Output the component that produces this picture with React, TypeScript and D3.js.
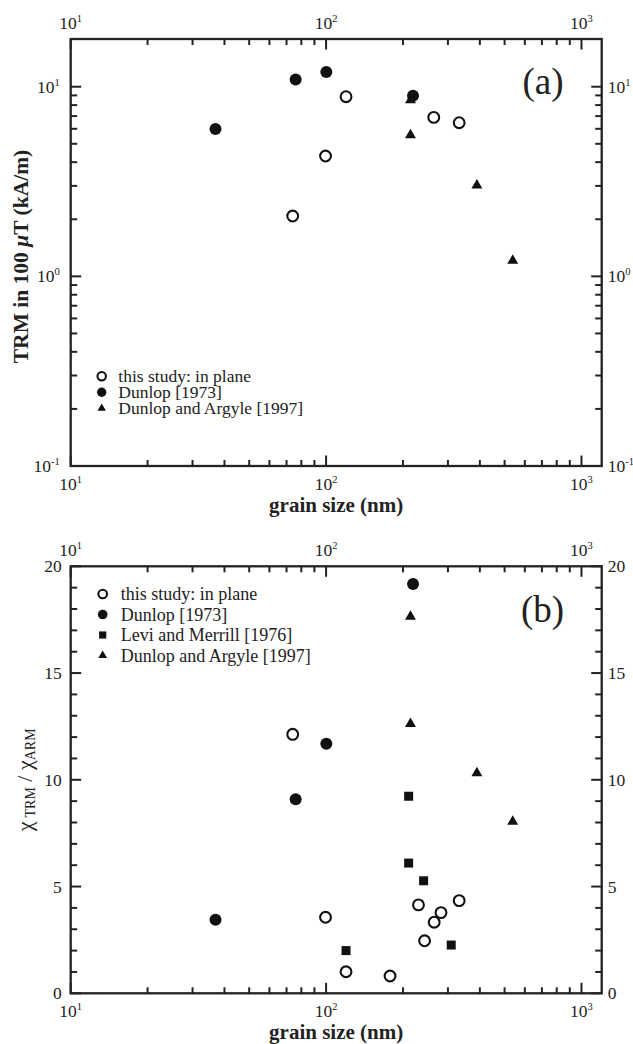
import React from "react";
import * as d3 from "d3";

// ---------- data ----------
// Panel (a): TRM in 100 µT (kA/m) vs grain size (nm)
const aStudyX = [74, 99.5, 119.7, 264, 332];
const aStudyY = [2.08, 4.31, 8.86, 6.89, 6.46];
const aDunlopX = [36.9, 76, 100.2, 219];
const aDunlopY = [5.98, 10.93, 11.95, 8.97];
const aArgyleX = [214, 214, 389.5, 538];
const aArgyleY = [8.5, 5.56, 3.02, 1.21];

// Panel (b): chi_TRM / chi_ARM vs grain size (nm)
const bStudyX = [74, 99.5, 119.7, 178, 230, 243, 265, 281.8, 332];
const bStudyY = [12.13, 3.56, 1.01, 0.81, 4.14, 2.46, 3.33, 3.78, 4.34];
const bDunlopX = [36.9, 76, 100.2, 219];
const bDunlopY = [3.45, 9.09, 11.69, 19.17];
const bLeviX = [119.7, 210.5, 210.5, 240.9, 309];
const bLeviY = [2.0, 9.23, 6.1, 5.27, 2.26];
const bArgyleX = [214, 214, 389.5, 538];
const bArgyleY = [17.64, 12.62, 10.32, 8.04];

const xMajor = [10, 100, 1000];
const xExp = ["1", "2", "3"];
const aYMajor = [0.1, 1, 10];
const aYExp = ["-1", "0", "1"];
const bYMajor = [0, 5, 10, 15, 20];

const legendA = ["this study: in plane", "Dunlop [1973]", "Dunlop and Argyle [1997]"];
const legendB = ["this study: in plane", "Dunlop [1973]", "Levi and Merrill [1976]", "Dunlop and Argyle [1997]"];

// ---------- layout ----------
const W = 633;
const H = 1044;
const FONT = "'Liberation Serif', 'Times New Roman', Times, serif";
const L = 70.7;
const R = 601.7;
const aTop = 39;
const aBot = 466;
const bTop = 566.3;
const bBot = 993.3;

const xA = d3.scaleLog().domain([10, 1200]).range([L, R]);
const yA = d3.scaleLog().domain([0.1, 17.85]).range([aBot, aTop]);
const yB = d3.scaleLinear().domain([0, 20]).range([bBot, bTop]);

const xMinor: number[] = [];
[10, 100].forEach((d) => {
  for (let k = 2; k <= 9; k++) xMinor.push(d * k);
});
const aYMinor: number[] = [];
[0.1, 1].forEach((d) => {
  for (let k = 2; k <= 9; k++) aYMinor.push(d * k);
});
const bYMinor = d3.range(0, 21).filter((v) => v % 5 !== 0);

const tri = (size: number) => d3.symbol(d3.symbolTriangle, size)()!;
const sq = (size: number) => d3.symbol(d3.symbolSquare, size)()!;

type Mk = "open" | "filled" | "tri" | "sq";

function Marker({ kind, x, y, s = 1 }: { kind: Mk; x: number; y: number; s?: number }) {
  if (kind === "open")
    return <circle cx={x} cy={y} r={5.4 * s} fill="none" stroke="#111" strokeWidth={2.1} />;
  if (kind === "filled") return <circle cx={x} cy={y} r={6 * s} fill="#111" />;
  if (kind === "tri")
    return <path d={tri(52 * s * s)} transform={`translate(${x},${y})`} fill="#111" />;
  return <path d={sq(81 * s * s)} transform={`translate(${x},${y})`} fill="#111" />;
}

function Sup({ base, exp, x, y, anchor }: { base: string; exp: string; x: number; y: number; anchor: string }) {
  return (
    <text x={x} y={y} textAnchor={anchor} fontFamily={FONT} fontSize={17.5} fill="#222">
      {base}
      <tspan fontSize={10.5} dy={-7}>
        {exp}
      </tspan>
    </text>
  );
}

function Frame({ top, bot, yTicks }: { top: number; bot: number; yTicks: { v: number; major: boolean; y: number }[] }) {
  const lines: React.ReactNode[] = [];
  const allX = [...xMajor.map((v) => ({ v, major: true })), ...xMinor.map((v) => ({ v, major: false }))];
  allX.forEach((t, i) => {
    const x = xA(t.v);
    const len = t.major ? 10.5 : 6;
    lines.push(<line key={`xb${i}`} x1={x} x2={x} y1={bot} y2={bot - len} />);
    lines.push(<line key={`xt${i}`} x1={x} x2={x} y1={top} y2={top + len} />);
  });
  yTicks.forEach((t, i) => {
    const len = t.major ? 10.5 : 6.5;
    lines.push(<line key={`yl${i}`} x1={L} x2={L + len} y1={t.y} y2={t.y} />);
    lines.push(<line key={`yr${i}`} x1={R} x2={R - len} y1={t.y} y2={t.y} />);
  });
  return (
    <g stroke="#222" strokeWidth={2}>
      {lines}
      <rect x={L} y={top} width={R - L} height={bot - top} fill="none" strokeWidth={2.3} />
    </g>
  );
}

function XLabels({ top, bot }: { top: number; bot: number }) {
  return (
    <g>
      {xMajor.map((v, i) => (
        <React.Fragment key={i}>
          <Sup base="10" exp={xExp[i]} x={xA(v)} y={top - 10.5} anchor="middle" />
          <Sup base="10" exp={xExp[i]} x={xA(v)} y={bot + 23.5} anchor="middle" />
        </React.Fragment>
      ))}
      <text
        x={(L + R) / 2}
        y={bot + 46}
        textAnchor="middle"
        fontFamily={FONT}
        fontWeight="bold"
        fontSize={21}
        fill="#222"
      >
        grain size (nm)
      </text>
    </g>
  );
}

export default function App() {
  const aYT = [
    ...aYMajor.map((v) => ({ v, major: true, y: yA(v) })),
    ...aYMinor.map((v) => ({ v, major: false, y: yA(v) })),
  ];
  const bYT = [
    ...bYMajor.map((v) => ({ v, major: true, y: yB(v) })),
    ...bYMinor.map((v) => ({ v, major: false, y: yB(v) })),
  ];

  const aSeries: { kind: Mk; xs: number[]; ys: number[] }[] = [
    { kind: "open", xs: aStudyX, ys: aStudyY },
    { kind: "tri", xs: aArgyleX, ys: aArgyleY },
    { kind: "filled", xs: aDunlopX, ys: aDunlopY },
  ];
  const bSeries: { kind: Mk; xs: number[]; ys: number[] }[] = [
    { kind: "open", xs: bStudyX, ys: bStudyY },
    { kind: "filled", xs: bDunlopX, ys: bDunlopY },
    { kind: "sq", xs: bLeviX, ys: bLeviY },
    { kind: "tri", xs: bArgyleX, ys: bArgyleY },
  ];
  const legAKinds: Mk[] = ["open", "filled", "tri"];
  const legAY = [376.2, 392.3, 408.4];
  const legBKinds: Mk[] = ["open", "filled", "sq", "tri"];
  const legBY = [594, 614.5, 635, 655.5];

  const aMid = (aTop + aBot) / 2;
  const bMid = (bTop + bBot) / 2;

  return (
    <svg
      width={W}
      height={H}
      viewBox={`0 0 ${W} ${H}`}
      style={{ position: "absolute", left: 0, top: 0, background: "#fff" }}
    >
      <rect x={0} y={0} width={W} height={H} fill="#fff" />

      {/* ---------------- Panel (a) ---------------- */}
      <Frame top={aTop} bot={aBot} yTicks={aYT} />
      <XLabels top={aTop} bot={aBot} />
      {aYMajor.map((v, i) => (
        <React.Fragment key={`ay${i}`}>
          <Sup base="10" exp={aYExp[i]} x={L - 11} y={yA(v) + 6} anchor="end" />
          <Sup base="10" exp={aYExp[i]} x={R + 6} y={yA(v) + 6} anchor="start" />
        </React.Fragment>
      ))}
      <text
        transform={`translate(27.5,${aMid + 4}) rotate(-90)`}
        textAnchor="middle"
        fontFamily={FONT}
        fontWeight="bold"
        fontSize={21.5}
        fill="#222"
      >
        TRM in 100 <tspan fontStyle="italic">μ</tspan>T (kA/m)
      </text>
      <text x={543} y={93.5} textAnchor="middle" fontFamily={FONT} fontSize={37} fill="#222">
        (a)
      </text>
      {aSeries.map((s, si) =>
        s.xs.map((xv, i) => <Marker key={`a${si}-${i}`} kind={s.kind} x={xA(xv)} y={yA(s.ys[i])} />)
      )}
      {legendA.map((t, i) => (
        <g key={`la${i}`}>
          <Marker kind={legAKinds[i]} x={101.7} y={legAY[i]} s={0.78} />
          <text x={118.3} y={legAY[i] + 5.5} fontFamily={FONT} fontSize={17.5} fill="#222">
            {t}
          </text>
        </g>
      ))}

      {/* ---------------- Panel (b) ---------------- */}
      <Frame top={bTop} bot={bBot} yTicks={bYT} />
      <XLabels top={bTop} bot={bBot} />
      {bYMajor.map((v, i) => (
        <React.Fragment key={`by${i}`}>
          <text x={L - 9} y={yB(v) + 6} textAnchor="end" fontFamily={FONT} fontSize={17.5} fill="#222">
            {v}
          </text>
          <text x={R + 6} y={yB(v) + 6} textAnchor="start" fontFamily={FONT} fontSize={17.5} fill="#222">
            {v}
          </text>
        </React.Fragment>
      ))}
      <text
        transform={`translate(32,${bMid}) rotate(-90)`}
        textAnchor="middle"
        fontFamily={FONT}
        fontSize={22}
        fill="#222"
      >
        χ
        <tspan fontSize={14} dy={3} dx={4}>
          TRM
        </tspan>
        <tspan dy={-3}> / χ</tspan>
        <tspan fontSize={14} dy={3}>
          ARM
        </tspan>
      </text>
      <text x={542.5} y={622} textAnchor="middle" fontFamily={FONT} fontSize={37} fill="#222">
        (b)
      </text>
      {bSeries.map((s, si) =>
        s.xs.map((xv, i) => <Marker key={`b${si}-${i}`} kind={s.kind} x={xA(xv)} y={yB(s.ys[i])} />)
      )}
      {legendB.map((t, i) => (
        <g key={`lb${i}`}>
          <Marker kind={legBKinds[i]} x={102.7} y={legBY[i]} s={0.8} />
          <text x={120.7} y={legBY[i] + 6} fontFamily={FONT} fontSize={18} fill="#222">
            {t}
          </text>
        </g>
      ))}
    </svg>
  );
}
